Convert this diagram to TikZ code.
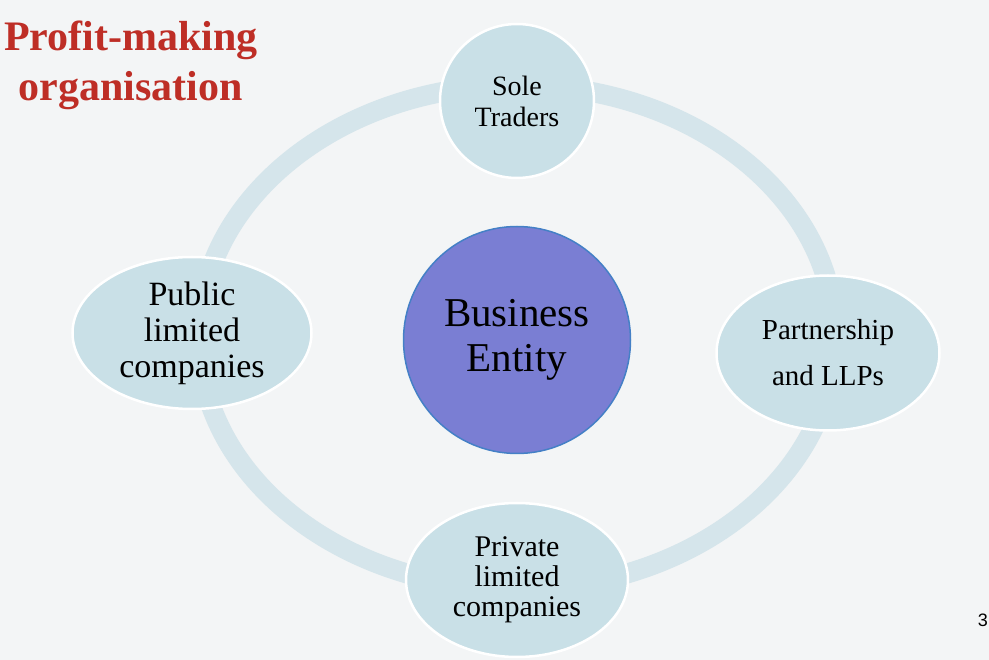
\documentclass[tikz,border=0pt]{standalone}
\usepackage{fontspec}
\setmainfont{Liberation Serif}
\newfontfamily\pagefont{Liberation Sans}
\usetikzlibrary{shapes.geometric}
\definecolor{titulo}{RGB}{190,46,38}
\definecolor{fondo}{RGB}{243,245,246}
\definecolor{anillo}{RGB}{213,229,235}
\definecolor{hoja}{RGB}{201,224,231}
\definecolor{centro}{RGB}{122,126,211}
\definecolor{borde}{RGB}{68,128,198}
\newcommand{\tam}[2]{\fontsize{#1}{#2}\selectfont}

\begin{document}
\begin{tikzpicture}[x=1pt,y=-1pt,
    tipo/.style={ellipse,fill=hoja,draw=white,line width=2.5pt,inner sep=0pt,align=center},
    entidad/.style={circle,fill=centro,draw=borde,line width=1.5pt,inner sep=0pt,align=center}]
    \fill[fondo] (0,0) rectangle (989,660);
    \useasboundingbox (0,0) rectangle (989,660);

    \draw[anillo,line width=20pt] (517,337) ellipse [x radius=318pt,y radius=252pt];

    \node[titulo,anchor=north,align=center,inner sep=0pt,font=\bfseries\tam{42}{50}]
      (titulo) at (131,21) {Profit-making\\organisation};

    \node[entidad,minimum size=227pt,font=\tam{41}{45}] (negocio) at (517,340)
      {Business\\Entity};
    \node[tipo,circle,minimum size=154pt,font=\tam{28}{31}] (sole) at (517,101)
      {Sole\\Traders};
    \node[tipo,minimum width=223pt,minimum height=155pt,font=\tam{29}{46}] (socios) at (828,353)
      {Partnership\\and LLPs};
    \node[tipo,minimum width=222pt,minimum height=154pt,font=\tam{30}{30}] (privada) at (517,580)
      {Private\\limited\\companies};
    \node[tipo,minimum width=239pt,minimum height=152pt,font=\tam{34}{36}] (publica) at (192,333)
      {Public\\limited\\companies};

    \node[anchor=east,inner sep=0pt,font=\pagefont\tam{18}{18}] (pagina) at (988,620) {3};
\end{tikzpicture}
\end{document}
